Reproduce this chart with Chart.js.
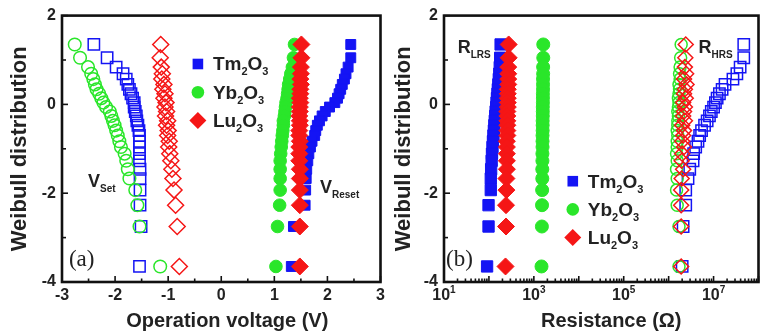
<!DOCTYPE html>
<html>
<head>
<meta charset="utf-8">
<script src="https://cdn.jsdelivr.net/npm/chart.js@4.4.1/dist/chart.umd.min.js"></script>
<style>
html, body { margin: 0; padding: 0; background: #fff; }
#wrap { position: relative; width: 768px; height: 332px; overflow: hidden; }
canvas { position: absolute; top: 0; }
#chartA { left: 0; }
#chartB { left: 384px; }
</style>
</head>
<body>
<div id="wrap">
  <canvas id="chartA" width="390" height="332"></canvas>
  <canvas id="chartB" width="384" height="332"></canvas>
</div>
<script>
// Weibull plotting positions, shared by every series
const weibullY = [1.35, 1.05, 0.84, 0.69, 0.57, 0.45, 0.34, 0.24, 0.14, 0.04,
  -0.06, -0.16, -0.26, -0.37, -0.47, -0.59, -0.70, -0.83, -0.96, -1.11,
  -1.27, -1.46, -1.67, -1.93, -2.27, -2.75, -3.65];

// (a) operation voltage (V)
const tmSetV = [-2.40, -2.15, -1.98, -1.85, -1.79, -1.76, -1.73, -1.70, -1.67, -1.64,
  -1.64, -1.62, -1.60, -1.59, -1.57, -1.55, -1.54, -1.54, -1.54, -1.54,
  -1.54, -1.53, -1.53, -1.53, -1.53, -1.51, -1.54];
const ybSetV = [-2.76, -2.66, -2.51, -2.45, -2.41, -2.38, -2.35, -2.30, -2.26, -2.22,
  -2.17, -2.10, -2.07, -2.04, -2.01, -1.98, -1.95, -1.92, -1.89, -1.82,
  -1.79, -1.76, -1.73, -1.62, -1.58, -1.54, -1.15];
const luSetV = [-1.14, -1.15, -1.13, -1.11, -1.12, -1.08, -1.10, -1.06, -1.08, -1.04,
  -1.06, -1.03, -1.05, -1.01, -1.03, -1.00, -1.01, -0.98, -0.99, -0.97,
  -0.95, -0.93, -0.91, -0.89, -0.86, -0.83, -0.79];
const tmResetV = [2.44, 2.44, 2.39, 2.35, 2.32, 2.28, 2.25, 2.22, 2.19, 2.14,
  2.04, 1.96, 1.90, 1.85, 1.81, 1.78, 1.76, 1.71, 1.68, 1.65,
  1.63, 1.61, 1.60, 1.59, 1.58, 1.36, 1.32];
const ybResetV = [1.38, 1.36, 1.34, 1.31, 1.29, 1.27, 1.26, 1.25, 1.24, 1.22,
  1.21, 1.20, 1.19, 1.17, 1.17, 1.16, 1.15, 1.14, 1.13, 1.12,
  1.11, 1.11, 1.11, 1.11, 1.10, 1.06, 1.03];
const luResetV = [1.51, 1.51, 1.50, 1.50, 1.49, 1.50, 1.49, 1.49, 1.48, 1.49,
  1.48, 1.48, 1.47, 1.48, 1.48, 1.47, 1.47, 1.48, 1.47, 1.47,
  1.47, 1.48, 1.48, 1.48, 1.48, 1.48, 1.48];

// (b) resistance (ohm)
const tmLrsR = [182, 178, 174, 170, 166, 162, 158, 155, 151, 148,
  145, 141, 138, 135, 132, 129, 126, 123, 120, 117,
  115, 112, 110, 110, 98, 98, 91];
const ybLrsR = [1620, 1620, 1610, 1610, 1600, 1600, 1600, 1590, 1590, 1590,
  1580, 1580, 1580, 1570, 1570, 1570, 1560, 1560, 1560, 1550,
  1550, 1540, 1540, 1530, 1520, 1510, 1480];
const luLrsR = [275, 275, 269, 269, 269, 269, 263, 263, 263, 263,
  263, 257, 257, 257, 257, 257, 257, 251, 251, 251,
  251, 251, 245, 245, 240, 240, 234];
const tmHrsR = [4.7e7, 4.7e7, 3.9e7, 3.3e7, 2.7e7, 1.8e7, 1.55e7, 1.35e7, 1.2e7, 1.1e7,
  1.0e7, 8.9e6, 8.1e6, 7.2e6, 6.3e6, 5.4e6, 4.9e6, 4.5e6, 4.0e6, 3.6e6,
  3.5e6, 2.95e6, 2.7e6, 2.4e6, 2.4e6, 2.1e6, 2.0e6];
const ybHrsR = [1.9e6, 1.85e6, 1.8e6, 1.75e6, 1.8e6, 1.7e6, 1.75e6, 1.7e6, 1.65e6, 1.7e6,
  1.65e6, 1.6e6, 1.65e6, 1.6e6, 1.6e6, 1.55e6, 1.6e6, 1.55e6, 1.55e6, 1.5e6,
  1.55e6, 1.5e6, 1.55e6, 1.5e6, 1.55e6, 1.7e6, 1.7e6];
const luHrsR = [2.4e6, 2.35e6, 2.3e6, 2.45e6, 2.2e6, 2.5e6, 2.3e6, 2.2e6, 2.4e6, 2.1e6,
  2.3e6, 2.2e6, 2.1e6, 2.3e6, 2.0e6, 2.2e6, 2.1e6, 2.0e6, 2.2e6, 2.0e6,
  1.95e6, 2.1e6, 1.95e6, 1.9e6, 1.9e6, 1.9e6, 1.9e6];

// axis ticks
const yMajorTicks = [-4, -2, 0, 2];
const yMinorTicks = [-3, -1, 1];
const xMajorTicksA = [-3, -2, -1, 0, 1, 2, 3];
const xMinorTicksA = [-2.5, -1.5, -0.5, 0.5, 1.5, 2.5];
const xLabelExpB = [1, 3, 5, 7];
const xDecadesB = [1, 2, 3, 4, 5, 6, 7, 8];

const BLUE = '#1414f4';
const GREEN = '#2ae62a';
const RED = '#f51616';
const FONT = '"Liberation Sans", Arial, Helvetica, sans-serif';

Chart.defaults.font.family = FONT;
Chart.defaults.color = '#222';

function series(label, xs, color, style, radius, filled, order) {
    return {
        label: label,
        data: xs.map((x, i) => ({ x: x, y: weibullY[i] })),
        showLine: false,
        pointStyle: style,
        pointRadius: radius,
        pointHoverRadius: radius,
        pointBorderColor: color,
        pointBackgroundColor: filled ? color : 'rgba(0,0,0,0)',
        pointBorderWidth: filled ? 1 : 1.5,
        order: order
    };
}

// draws text pieces one after another: [text, size, dy]
function drawRich(ctx, x, y, parts) {
    parts.forEach(([text, size, dy]) => {
        ctx.font = `bold ${size}px ${FONT}`;
        ctx.fillText(text, x, y + dy);
        x += ctx.measureText(text).width;
    });
}

function chemParts(a, b, big, small) {
    return [[a, big, 0], ['2', small, 5], [b, big, 0], ['3', small, 5]];
}

// frame round the plot plus inward tick marks
const framePlugin = {
    id: 'frame',
    afterDatasetsDraw(chart, args, opts) {
        const { ctx, chartArea: a, scales } = chart;
        ctx.save();
        ctx.strokeStyle = '#111';
        ctx.lineWidth = 1.6;
        const tick = (x1, y1, x2, y2) => { ctx.beginPath(); ctx.moveTo(x1, y1); ctx.lineTo(x2, y2); ctx.stroke(); };
        yMajorTicks.forEach(v => { const p = scales.y.getPixelForValue(v); tick(a.left, p, a.left + 6, p); });
        yMinorTicks.forEach(v => { const p = scales.y.getPixelForValue(v); tick(a.left, p, a.left + 4, p); });
        opts.xMajor.forEach(v => { const p = scales.x.getPixelForValue(v); tick(p, a.bottom, p, a.bottom - 6); });
        opts.xMinor.forEach(v => { const p = scales.x.getPixelForValue(v); tick(p, a.bottom, p, a.bottom - 3.5); });
        ctx.lineWidth = 2.6;
        ctx.strokeRect(a.left, a.top, a.right - a.left, a.bottom - a.top);
        ctx.restore();
    }
};

// legend, in-plot labels and x title
const labelPlugin = {
    id: 'labels',
    afterDraw(chart, args, opts) {
        const { ctx, scales, chartArea } = chart;
        ctx.save();
        ctx.fillStyle = '#222';
        ctx.textBaseline = 'alphabetic';
        ctx.textAlign = 'left';

        // legend
        const lx = scales.x.getPixelForValue(opts.legendAt[0]);
        const ly = scales.y.getPixelForValue(opts.legendAt[1]);
        const rows = [
            ['Tm', 'O', BLUE, 'rect', 7.5],
            ['Yb', 'O', GREEN, 'circle', 6.3],
            ['Lu', 'O', RED, 'rectRot', 8.5]
        ];
        rows.forEach((r, i) => {
            const y = ly + i * 28.2;
            ctx.fillStyle = r[2];
            ctx.strokeStyle = r[2];
            Chart.helpers.drawPoint(ctx, { pointStyle: r[3], radius: r[4], rotation: 0, borderWidth: 0 }, lx, y);
            ctx.fillStyle = '#222';
            drawRich(ctx, lx + 15, y + 6.5, chemParts(r[0], r[1], 19, 11));
        });

        // annotations
        opts.notes.forEach(n => {
            const x = scales.x.getPixelForValue(n.at[0]);
            const y = scales.y.getPixelForValue(n.at[1]);
            drawRich(ctx, x, y, [[n.main, 18, 0], [n.sub, 10, 5]]);
        });

        // panel letter
        ctx.font = `23px "Liberation Serif", "Times New Roman", serif`;
        ctx.fillText(opts.letter, scales.x.getPixelForValue(opts.letterAt[0]), scales.y.getPixelForValue(opts.letterAt[1]));

        // log tick labels with superscripts
        if (opts.expLabels) {
            opts.expLabels.forEach(e => {
                const p = scales.x.getPixelForValue(Math.pow(10, e));
                ctx.font = `bold 16px ${FONT}`;
                const w1 = ctx.measureText('10').width;
                ctx.font = `bold 10px ${FONT}`;
                const w2 = ctx.measureText(String(e)).width;
                drawRich(ctx, p - (w1 + w2) / 2, chartArea.bottom + 18, [['10', 16, 0], [String(e), 10, -7]]);
            });
        }

        // x axis title
        ctx.font = `bold 20px ${FONT}`;
        ctx.textAlign = 'center';
        ctx.fillText(opts.xTitle, (chartArea.left + chartArea.right) / 2 + opts.xTitleShift, 327);
        ctx.restore();
    }
};

const yAxis = {
    min: -4,
    max: 2,
    grid: { display: false, drawTicks: false },
    border: { display: false },
    ticks: { stepSize: 2, padding: 6, font: { size: 16, weight: 'bold' }, color: '#222' },
    title: { display: true, text: 'Weibull distribution', color: '#222', font: { size: 22, weight: 'bold' }, padding: { top: 7, bottom: 0 } }
};

const chartA = new Chart(document.getElementById('chartA'), {
    type: 'scatter',
    data: {
        datasets: [
            series('Lu2O3 set', luSetV, RED, 'rectRot', 8, false, 0),
            series('Yb2O3 set', ybSetV, GREEN, 'circle', 6.3, false, 1),
            series('Tm2O3 set', tmSetV, BLUE, 'rect', 8, false, 2),
            series('Lu2O3 reset', luResetV, RED, 'rectRot', 8.5, true, 0),
            series('Yb2O3 reset', ybResetV, GREEN, 'circle', 6.3, true, 1),
            series('Tm2O3 reset', tmResetV, BLUE, 'rect', 7, true, 2)
        ]
    },
    options: {
        responsive: false,
        animation: false,
        devicePixelRatio: 1,
        layout: { padding: { top: 12, right: 5, left: 0, bottom: 0 } },
        plugins: {
            legend: { display: false },
            tooltip: { enabled: false },
            frame: { xMajor: xMajorTicksA, xMinor: xMinorTicksA },
            labels: {
                legendAt: [-0.44, 0.91],
                notes: [
                    { main: 'V', sub: 'Set', at: [-2.51, -1.87] },
                    { main: 'V', sub: 'Reset', at: [1.86, -2.0] }
                ],
                letter: '(a)',
                letterAt: [-2.87, -3.64],
                xTitle: 'Operation voltage (V)',
                xTitleShift: 6
            }
        },
        scales: {
            x: {
                type: 'linear',
                min: -3,
                max: 3,
                grid: { display: false, drawTicks: false },
                border: { display: false },
                ticks: { stepSize: 1, padding: 4, font: { size: 16, weight: 'bold' }, color: '#222' },
                afterFit: s => { s.height = 50; }
            },
            y: Object.assign({}, yAxis, { afterFit: s => { s.width = 62; } })
        }
    },
    plugins: [framePlugin, labelPlugin]
});

const minorB = [];
xDecadesB.slice(0, -1).forEach(d => {
    [2, 3, 4, 5, 6, 7, 8, 9].forEach(m => minorB.push(m * Math.pow(10, d)));
});

const chartB = new Chart(document.getElementById('chartB'), {
    type: 'scatter',
    data: {
        datasets: [
            series('Lu2O3 LRS', luLrsR, RED, 'rectRot', 8.5, true, 0),
            series('Yb2O3 LRS', ybLrsR, GREEN, 'circle', 6.5, true, 1),
            series('Tm2O3 LRS', tmLrsR, BLUE, 'rect', 8, true, 2),
            series('Lu2O3 HRS', luHrsR, RED, 'rectRot', 7.5, false, 0),
            series('Yb2O3 HRS', ybHrsR, GREEN, 'circle', 6, false, 1),
            series('Tm2O3 HRS', tmHrsR, BLUE, 'rect', 8, false, 2)
        ]
    },
    options: {
        responsive: false,
        animation: false,
        devicePixelRatio: 1,
        layout: { padding: { top: 12, right: 4, left: 0, bottom: 0 } },
        plugins: {
            legend: { display: false },
            tooltip: { enabled: false },
            frame: { xMajor: xDecadesB.map(d => Math.pow(10, d)), xMinor: minorB },
            labels: {
                legendAt: [7350, -1.73],
                notes: [
                    { main: 'R', sub: 'LRS', at: [20.2, 1.16] },
                    { main: 'R', sub: 'HRS', at: [4.64e6, 1.16] }
                ],
                letter: '(b)',
                letterAt: [11.1, -3.64],
                expLabels: xLabelExpB,
                xTitle: 'Resistance (Ω)',
                xTitleShift: 10
            }
        },
        scales: {
            x: {
                type: 'logarithmic',
                min: 10,
                max: 1e8,
                grid: { display: false, drawTicks: false },
                border: { display: false },
                ticks: { display: false },
                afterFit: s => { s.height = 50; }
            },
            y: Object.assign({}, yAxis, { afterFit: s => { s.width = 60; } })
        }
    },
    plugins: [framePlugin, labelPlugin]
});
</script>
</body>
</html>
